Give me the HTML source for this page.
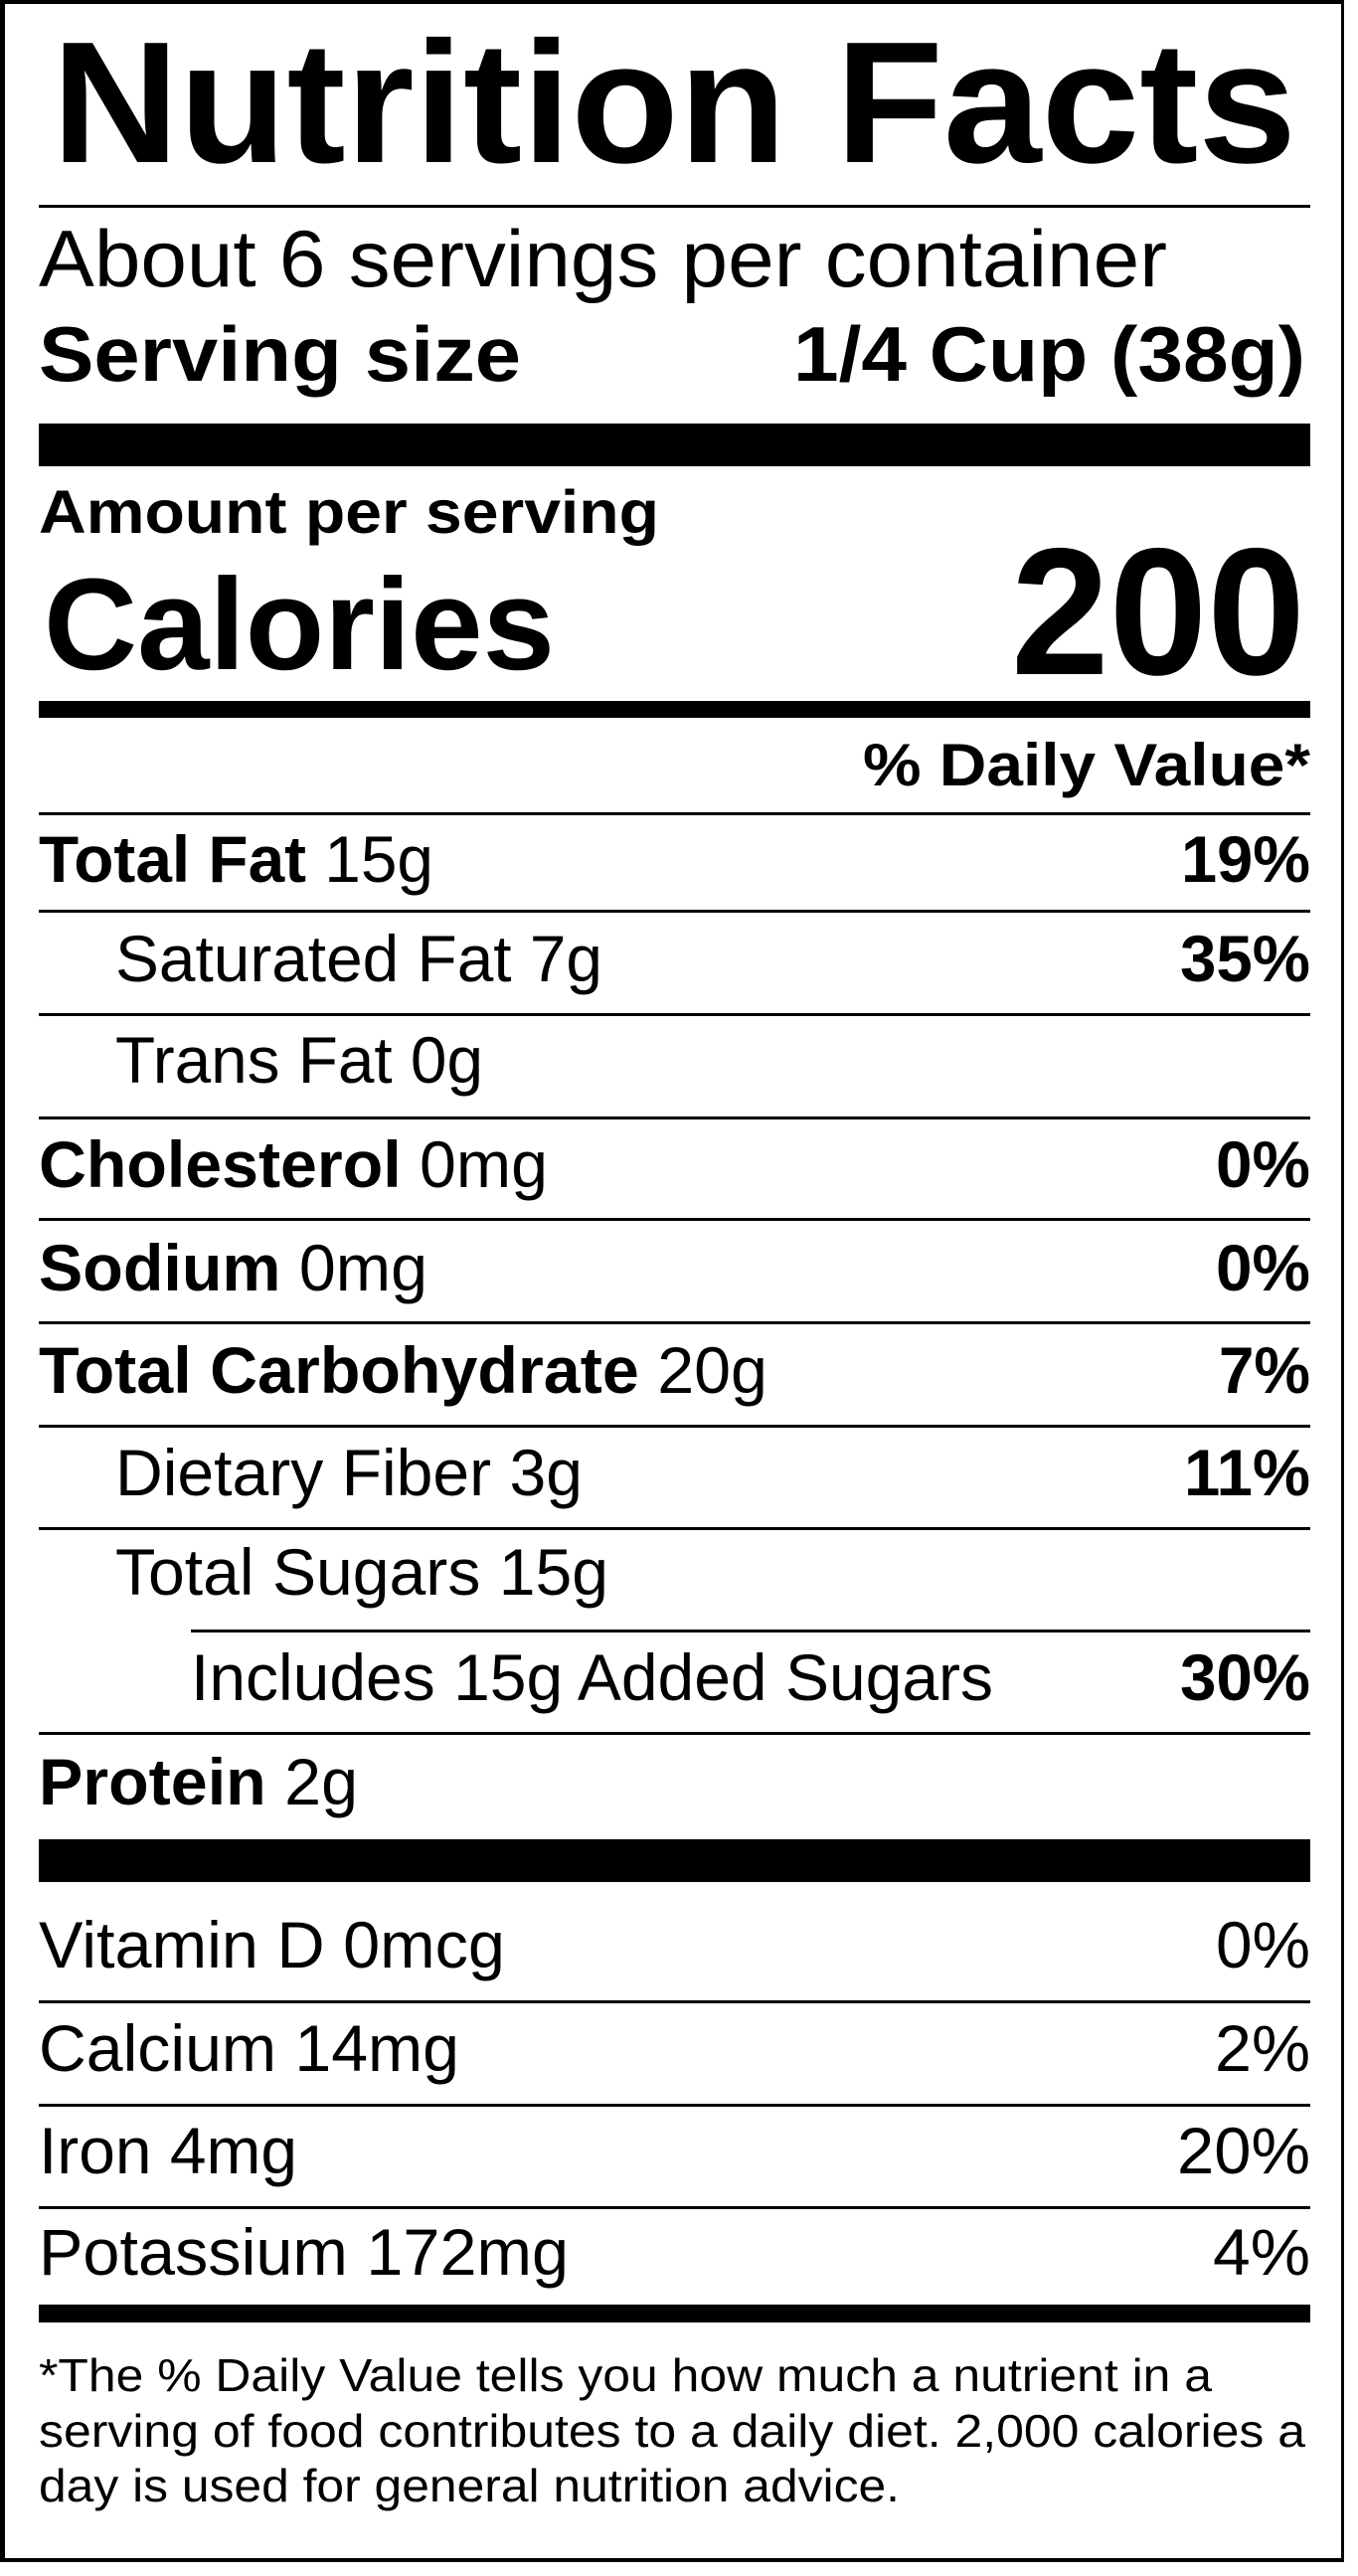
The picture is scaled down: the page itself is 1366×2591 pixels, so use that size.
<!DOCTYPE html>
<html><head><meta charset="utf-8"><style>
html,body{margin:0;padding:0;background:#fff;}
svg{display:block;}
text{font-family:"Liberation Sans",Arial,sans-serif;fill:#000;}
.b{font-weight:bold;}
</style></head><body>
<svg width="1366" height="2591" viewBox="0 0 1366 2591" xmlns="http://www.w3.org/2000/svg">
<rect x="0" y="0" width="1366" height="2591" fill="#fff"/>
<rect x="0" y="0" width="1352" height="2577" fill="#000"/>
<rect x="5" y="4" width="1344" height="2569" fill="#fff"/>

<text class="b" x="52" y="163" font-size="174" textLength="1252" lengthAdjust="spacingAndGlyphs">Nutrition Facts</text>
<rect x="39" y="206" width="1279" height="3"/>
<text x="39" y="288" font-size="81" textLength="1135" lengthAdjust="spacingAndGlyphs">About 6 servings per container</text>
<text class="b" x="39" y="383" font-size="78" textLength="485" lengthAdjust="spacingAndGlyphs">Serving size</text>
<text class="b" x="798" y="383" font-size="78" textLength="515" lengthAdjust="spacingAndGlyphs">1/4 Cup (38g)</text>
<rect x="39" y="426" width="1279" height="43"/>
<text class="b" x="39" y="536" font-size="61" textLength="624" lengthAdjust="spacingAndGlyphs">Amount per serving</text>
<text class="b" x="44" y="673" font-size="131" textLength="514" lengthAdjust="spacingAndGlyphs">Calories</text>
<text class="b" x="1017" y="678" font-size="182" textLength="296" lengthAdjust="spacingAndGlyphs">200</text>
<rect x="39" y="705" width="1279" height="17"/>
<text class="b" x="868" y="790" font-size="60" textLength="450" lengthAdjust="spacingAndGlyphs">% Daily Value*</text>
<rect x="39" y="817" width="1279" height="3"/>

<text x="39" y="887" font-size="66" textLength="397" lengthAdjust="spacingAndGlyphs"><tspan class="b">Total Fat</tspan> 15g</text>
<text class="b" x="1188" y="887" font-size="66" textLength="130" lengthAdjust="spacingAndGlyphs">19%</text>
<rect x="39" y="915" width="1279" height="3"/>
<text x="116" y="987" font-size="66" textLength="490" lengthAdjust="spacingAndGlyphs">Saturated Fat 7g</text>
<text class="b" x="1187" y="987" font-size="66" textLength="131" lengthAdjust="spacingAndGlyphs">35%</text>
<rect x="39" y="1019" width="1279" height="3"/>
<text x="116" y="1089" font-size="66" textLength="370" lengthAdjust="spacingAndGlyphs">Trans Fat 0g</text>
<rect x="39" y="1123" width="1279" height="3"/>
<text x="39" y="1194" font-size="66" textLength="512" lengthAdjust="spacingAndGlyphs"><tspan class="b">Cholesterol</tspan> 0mg</text>
<text class="b" x="1223" y="1194" font-size="66" textLength="95" lengthAdjust="spacingAndGlyphs">0%</text>
<rect x="39" y="1225" width="1279" height="3"/>
<text x="39" y="1298" font-size="66" textLength="391" lengthAdjust="spacingAndGlyphs"><tspan class="b">Sodium</tspan> 0mg</text>
<text class="b" x="1223" y="1298" font-size="66" textLength="95" lengthAdjust="spacingAndGlyphs">0%</text>
<rect x="39" y="1329" width="1279" height="3"/>
<text x="39" y="1401" font-size="66" textLength="733" lengthAdjust="spacingAndGlyphs"><tspan class="b">Total Carbohydrate</tspan> 20g</text>
<text class="b" x="1226" y="1401" font-size="66" textLength="92" lengthAdjust="spacingAndGlyphs">7%</text>
<rect x="39" y="1433" width="1279" height="3"/>
<text x="116" y="1504" font-size="66" textLength="470" lengthAdjust="spacingAndGlyphs">Dietary Fiber 3g</text>
<text class="b" x="1191" y="1504" font-size="66" textLength="127" lengthAdjust="spacingAndGlyphs">11%</text>
<rect x="39" y="1536" width="1279" height="3"/>
<text x="116" y="1604" font-size="66" textLength="496" lengthAdjust="spacingAndGlyphs">Total Sugars 15g</text>
<rect x="192" y="1639" width="1126" height="3"/>
<text x="192" y="1710" font-size="66" textLength="807" lengthAdjust="spacingAndGlyphs">Includes 15g Added Sugars</text>
<text class="b" x="1187" y="1710" font-size="66" textLength="131" lengthAdjust="spacingAndGlyphs">30%</text>
<rect x="39" y="1742" width="1279" height="3"/>
<text x="39" y="1815" font-size="66" textLength="321" lengthAdjust="spacingAndGlyphs"><tspan class="b">Protein</tspan> 2g</text>
<rect x="39" y="1850" width="1279" height="43"/>

<text x="39" y="1979" font-size="66" textLength="469" lengthAdjust="spacingAndGlyphs">Vitamin D 0mcg</text>
<text x="1223" y="1979" font-size="66" textLength="95" lengthAdjust="spacingAndGlyphs">0%</text>
<rect x="39" y="2012" width="1279" height="3"/>
<text x="39" y="2083" font-size="66" textLength="423" lengthAdjust="spacingAndGlyphs">Calcium 14mg</text>
<text x="1222" y="2083" font-size="66" textLength="96" lengthAdjust="spacingAndGlyphs">2%</text>
<rect x="39" y="2116" width="1279" height="3"/>
<text x="39" y="2186" font-size="66" textLength="260" lengthAdjust="spacingAndGlyphs">Iron 4mg</text>
<text x="1184" y="2186" font-size="66" textLength="134" lengthAdjust="spacingAndGlyphs">20%</text>
<rect x="39" y="2219" width="1279" height="3"/>
<text x="39" y="2288" font-size="66" textLength="533" lengthAdjust="spacingAndGlyphs">Potassium 172mg</text>
<text x="1220" y="2288" font-size="66" textLength="98" lengthAdjust="spacingAndGlyphs">4%</text>
<rect x="39" y="2318" width="1279" height="18"/>

<text x="39" y="2405" font-size="46" textLength="1180" lengthAdjust="spacingAndGlyphs">*The % Daily Value tells you how much a nutrient in a</text>
<text x="39" y="2461" font-size="46" textLength="1274" lengthAdjust="spacingAndGlyphs">serving of food contributes to a daily diet. 2,000 calories a</text>
<text x="39" y="2516" font-size="46" textLength="866" lengthAdjust="spacingAndGlyphs">day is used for general nutrition advice.</text>
</svg>
</body></html>
